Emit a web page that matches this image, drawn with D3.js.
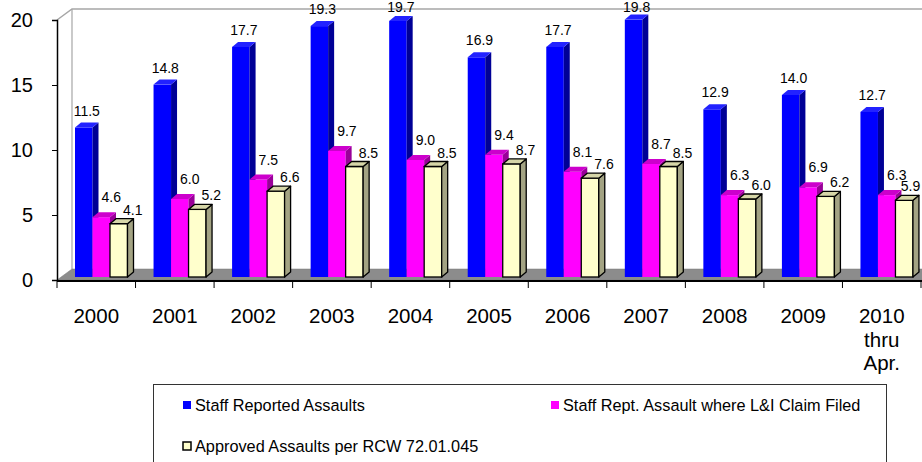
<!DOCTYPE html>
<html>
<head>
<meta charset="utf-8">
<script src="https://cdn.jsdelivr.net/npm/d3@7"></script>
<style>
  html, body { margin: 0; padding: 0; background: #fff; }
  svg { display: block; font-family: "Liberation Sans", Arial, sans-serif; }
</style>
</head>
<body>
<svg id="chart" width="922" height="462"></svg>
<script>
// ---- data ----
const categories = ["2000","2001","2002","2003","2004","2005","2006","2007","2008","2009","2010\nthru\nApr."];
const seriesNames = ["Staff Reported Assaults","Staff Rept. Assault where L&I Claim Filed","Approved Assaults per RCW 72.01.045"];
const staffReported = [11.5, 14.8, 17.7, 19.3, 19.7, 16.9, 17.7, 19.8, 12.9, 14.0, 12.7];
const claimFiled    = [4.6, 6.0, 7.5, 9.7, 9.0, 9.4, 8.1, 8.7, 6.3, 6.9, 6.3];
const approved      = [4.1, 5.2, 6.6, 8.5, 8.5, 8.7, 7.6, 8.5, 6.0, 6.2, 5.9];
const yTicks = [0, 5, 10, 15, 20];

// ---- styles ----
const seriesStyle = [
  {front: "#0000FF", side: "#000096", top: "#2222FF", stroke: "none", lx: 3, ly: 12},
  {front: "#FF00FF", side: "#990099", top: "#CC00CC", stroke: "none", lx: 10, ly: 15},
  {front: "#FFFFCC", side: "#A3A383", top: "#D6D6A8", stroke: "#000", lx: 14, ly: 9}
];
const seriesData = [staffReported, claimFiled, approved];

const svg = d3.select("#chart");

// ---- geometry ----
const x0 = 57, x1 = 921;
const depthX = 15, depthY = 11; // chart wall depth
const barDX = 6, barDY = 5;      // bar depth

const xScale = d3.scaleBand().domain(categories).range([x0, x1]).padding(0);
const inner = d3.scaleBand().domain([0,1,2]).range([18, 18 + 52.5]).padding(0);
const yAxisScale = d3.scaleLinear().domain([0, 20]).range([280, 20]);
const yBar = d3.scaleLinear().domain([0, 20]).range([277, 17]);

// ---- walls ----
const yTop = yAxisScale(20), yBot = yAxisScale(0);
svg.append("path")
  .attr("d", `M${x0},${yTop} L${x0+depthX},${yTop-depthY} L922,${yTop-depthY}`)
  .attr("fill", "none").attr("stroke", "#A6A6A6").attr("stroke-width", 1.5);
svg.append("line")
  .attr("x1", x0+depthX).attr("x2", x0+depthX)
  .attr("y1", yTop-depthY).attr("y2", yBot-depthY)
  .attr("stroke", "#A6A6A6").attr("stroke-width", 1.2);
svg.append("path")
  .attr("d", `M${x0},${yBot} L${x0+depthX},${yBot-depthY} L924,${yBot-depthY} L924,${yBot} Z`)
  .attr("fill", "#8C8C8C").attr("stroke", "#7A7A7A").attr("stroke-width", 0.5);

// ---- bars ----
const barsG = svg.append("g");
categories.forEach((c, i) => {
  seriesData.forEach((arr, s) => {
    const v = arr[i];
    const st = seriesStyle[s];
    const bx = xScale(c) + inner(s);
    const bw = inner.bandwidth();
    const ty = yBar(v), by = yBar(0);
    const g = barsG.append("g");
    const sw = s === 2 ? 1.3 : 0;
    g.append("rect").attr("x", bx).attr("y", ty).attr("width", bw).attr("height", by - ty)
      .attr("fill", st.front).attr("stroke", st.stroke).attr("stroke-width", sw);
    g.append("path")
      .attr("d", `M${bx+bw},${ty} L${bx+bw+barDX},${ty-barDY} L${bx+bw+barDX},${by-barDY} L${bx+bw},${by} Z`)
      .attr("fill", st.side).attr("stroke", st.stroke).attr("stroke-width", sw).attr("stroke-linejoin", "round");
    g.append("path")
      .attr("d", `M${bx},${ty} L${bx+barDX},${ty-barDY} L${bx+bw+barDX},${ty-barDY} L${bx+bw},${ty} Z`)
      .attr("fill", st.top).attr("stroke", st.stroke).attr("stroke-width", sw).attr("stroke-linejoin", "round");
  });
});

// ---- value labels ----
const labG = svg.append("g");
categories.forEach((c, i) => {
  seriesData.forEach((arr, s) => {
    const v = arr[i];
    const st = seriesStyle[s];
    const bx = xScale(c) + inner(s) + inner.bandwidth() / 2;
    const lx = Math.min(bx + st.lx, 910.5);
    const ly = Math.max(yBar(v) - st.ly, 12);
    labG.append("text")
      .attr("x", lx).attr("y", ly)
      .attr("text-anchor", "middle")
      .attr("font-size", 14).attr("fill", "#000")
      .text(v.toFixed(1));
  });
});

// ---- axes ----
const yAxis = d3.axisLeft(yAxisScale).tickValues(yTicks).tickSize(5).tickPadding(19).tickFormat(d3.format("d"));
const yg = svg.append("g").attr("transform", `translate(${x0},0)`).call(yAxis);
yg.select(".domain").attr("stroke", "#000").attr("stroke-width", 1.5);
yg.selectAll("text").attr("font-size", 20).attr("fill", "#000").attr("font-family", "Liberation Sans, Arial, sans-serif");

const xg = svg.append("g");
xg.append("line").attr("x1", x0).attr("x2", 922).attr("y1", 281).attr("y2", 281)
  .attr("stroke", "#000").attr("stroke-width", 2);
categories.forEach((c) => {
  const tx = xScale(c);
  xg.append("line").attr("x1", tx).attr("x2", tx).attr("y1", 281).attr("y2", 288)
    .attr("stroke", "#000").attr("stroke-width", 1);
});
xg.append("line").attr("x1", x1).attr("x2", x1).attr("y1", 281).attr("y2", 288)
  .attr("stroke", "#000").attr("stroke-width", 1);
categories.forEach((c) => {
  const t = xg.append("text")
    .attr("x", xScale(c) + xScale.bandwidth() / 2)
    .attr("y", 323)
    .attr("text-anchor", "middle")
    .attr("font-size", 20.5).attr("fill", "#000");
  c.split("\n").forEach((line, k) => {
    t.append("tspan").attr("x", xScale(c) + xScale.bandwidth() / 2)
      .attr("dy", k === 0 ? 0 : 23.5).text(line);
  });
});

// ---- legend ----
const lg = svg.append("g");
lg.append("rect").attr("x", 153.5).attr("y", 384.5).attr("width", 733).attr("height", 100)
  .attr("fill", "#fff").attr("stroke", "#333").attr("stroke-width", 1);
const legendPos = [[183, 411], [551, 411], [183, 452]];
seriesNames.forEach((name, s) => {
  const [lx, ly] = legendPos[s];
  const st = seriesStyle[s];
  lg.append("rect").attr("x", lx).attr("y", ly - 10).attr("width", 8).attr("height", 8)
    .attr("fill", st.front).attr("stroke", s === 2 ? "#000" : "none").attr("stroke-width", s === 2 ? 1.5 : 0);
  lg.append("text").attr("x", lx + 12).attr("y", ly).attr("font-size", 16.3).attr("fill", "#000").text(name);
});
</script>
</body>
</html>
